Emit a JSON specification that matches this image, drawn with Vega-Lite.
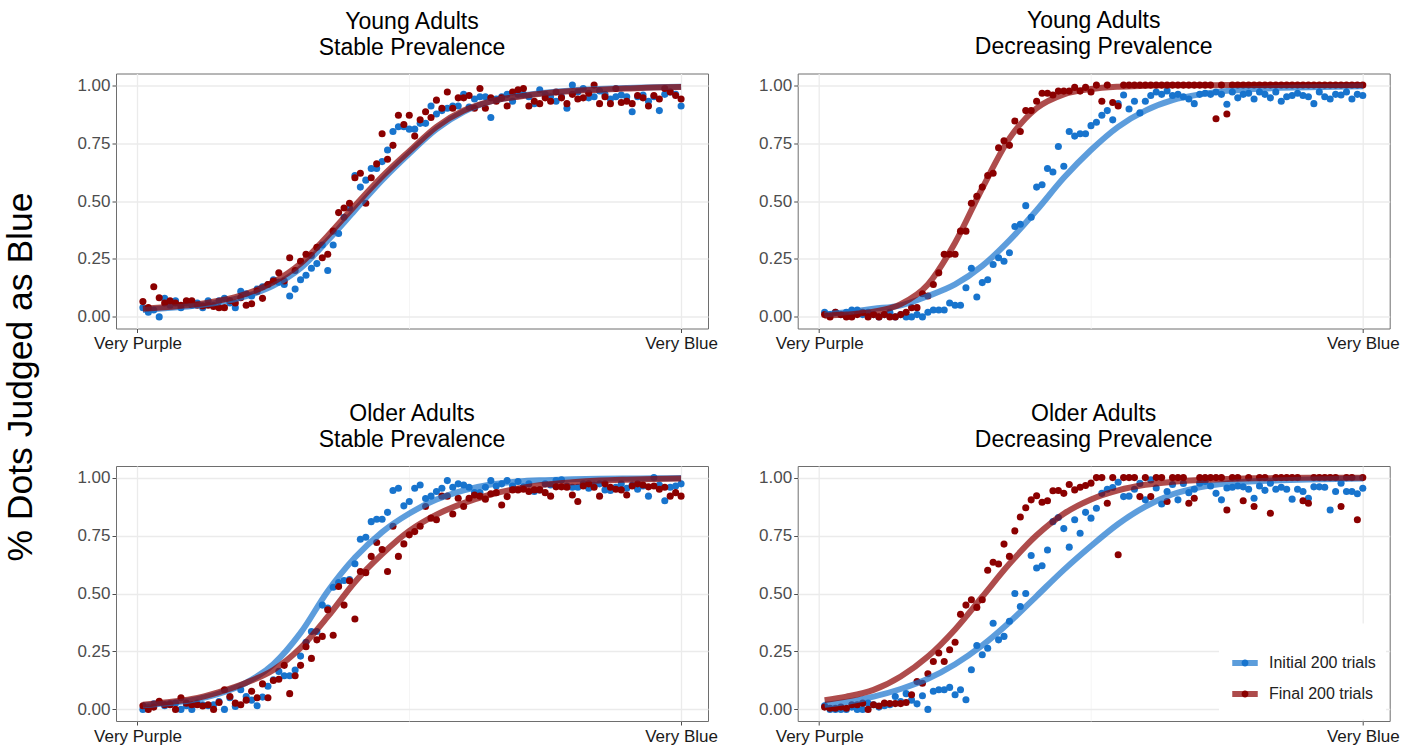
{
"$schema": "https://vega.github.io/schema/vega-lite/v6.json",
"background": "white",
"padding": {"left": 3, "top": 9.5, "right": 5, "bottom": 5},
"bounds": "flush",
"spacing": {"row": 137.5, "column": 89.7},
"columns": 2,
"title": {"text": "% Dots Judged as Blue", "orient": "left", "anchor": "middle", "fontSize": 35.5, "font": "Liberation Sans", "fontWeight": "normal", "color": "#000000", "offset": 37},
"datasets": {
"pts": [
{"p":"YS","g":"I","x":1,"y":0.04},{"p":"YS","g":"I","x":2,"y":0.02},{"p":"YS","g":"I","x":3,"y":0.03},{"p":"YS","g":"I","x":4,"y":0},{"p":"YS","g":"I","x":5,"y":0.08},{"p":"YS","g":"I","x":6,"y":0.05},{"p":"YS","g":"I","x":7,"y":0.07},{"p":"YS","g":"I","x":8,"y":0.04},{"p":"YS","g":"I","x":9,"y":0.06},{"p":"YS","g":"I","x":10,"y":0.05},
{"p":"YS","g":"I","x":11,"y":0.06},{"p":"YS","g":"I","x":12,"y":0.04},{"p":"YS","g":"I","x":13,"y":0.07},{"p":"YS","g":"I","x":14,"y":0.05},{"p":"YS","g":"I","x":15,"y":0.07},{"p":"YS","g":"I","x":16,"y":0.08},{"p":"YS","g":"I","x":17,"y":0.06},{"p":"YS","g":"I","x":18,"y":0.04},{"p":"YS","g":"I","x":19,"y":0.11},{"p":"YS","g":"I","x":20,"y":0.1},
{"p":"YS","g":"I","x":21,"y":0.09},{"p":"YS","g":"I","x":22,"y":0.12},{"p":"YS","g":"I","x":23,"y":0.13},{"p":"YS","g":"I","x":24,"y":0.14},{"p":"YS","g":"I","x":25,"y":0.16},{"p":"YS","g":"I","x":26,"y":0.15},{"p":"YS","g":"I","x":27,"y":0.14},{"p":"YS","g":"I","x":28,"y":0.09},{"p":"YS","g":"I","x":29,"y":0.12},{"p":"YS","g":"I","x":30,"y":0.16},
{"p":"YS","g":"I","x":31,"y":0.18},{"p":"YS","g":"I","x":32,"y":0.21},{"p":"YS","g":"I","x":33,"y":0.23},{"p":"YS","g":"I","x":34,"y":0.31},{"p":"YS","g":"I","x":35,"y":0.2},{"p":"YS","g":"I","x":36,"y":0.31},{"p":"YS","g":"I","x":37,"y":0.36},{"p":"YS","g":"I","x":38,"y":0.43},{"p":"YS","g":"I","x":39,"y":0.47},{"p":"YS","g":"I","x":40,"y":0.61},
{"p":"YS","g":"I","x":41,"y":0.56},{"p":"YS","g":"I","x":42,"y":0.59},{"p":"YS","g":"I","x":43,"y":0.64},{"p":"YS","g":"I","x":44,"y":0.64},{"p":"YS","g":"I","x":45,"y":0.67},{"p":"YS","g":"I","x":46,"y":0.72},{"p":"YS","g":"I","x":47,"y":0.8},{"p":"YS","g":"I","x":48,"y":0.82},{"p":"YS","g":"I","x":49,"y":0.82},{"p":"YS","g":"I","x":50,"y":0.81},
{"p":"YS","g":"I","x":51,"y":0.81},{"p":"YS","g":"I","x":52,"y":0.835},{"p":"YS","g":"I","x":53,"y":0.835},{"p":"YS","g":"I","x":54,"y":0.91},{"p":"YS","g":"I","x":55,"y":0.875},{"p":"YS","g":"I","x":56,"y":0.89},{"p":"YS","g":"I","x":57,"y":0.9},{"p":"YS","g":"I","x":58,"y":0.91},{"p":"YS","g":"I","x":59,"y":0.91},{"p":"YS","g":"I","x":60,"y":0.96},
{"p":"YS","g":"I","x":61,"y":0.905},{"p":"YS","g":"I","x":62,"y":0.94},{"p":"YS","g":"I","x":63,"y":0.95},{"p":"YS","g":"I","x":64,"y":0.95},{"p":"YS","g":"I","x":65,"y":0.86},{"p":"YS","g":"I","x":66,"y":0.94},{"p":"YS","g":"I","x":67,"y":0.95},{"p":"YS","g":"I","x":68,"y":0.96},{"p":"YS","g":"I","x":69,"y":0.93},{"p":"YS","g":"I","x":70,"y":0.96},
{"p":"YS","g":"I","x":71,"y":0.96},{"p":"YS","g":"I","x":72,"y":0.95},{"p":"YS","g":"I","x":73,"y":0.92},{"p":"YS","g":"I","x":74,"y":0.98},{"p":"YS","g":"I","x":75,"y":0.96},{"p":"YS","g":"I","x":76,"y":0.95},{"p":"YS","g":"I","x":77,"y":0.93},{"p":"YS","g":"I","x":78,"y":0.95},{"p":"YS","g":"I","x":79,"y":0.9},{"p":"YS","g":"I","x":80,"y":1},
{"p":"YS","g":"I","x":81,"y":0.97},{"p":"YS","g":"I","x":82,"y":0.985},{"p":"YS","g":"I","x":83,"y":0.945},{"p":"YS","g":"I","x":84,"y":0.95},{"p":"YS","g":"I","x":85,"y":0.975},{"p":"YS","g":"I","x":86,"y":0.96},{"p":"YS","g":"I","x":87,"y":0.94},{"p":"YS","g":"I","x":88,"y":0.95},{"p":"YS","g":"I","x":89,"y":0.957},{"p":"YS","g":"I","x":90,"y":0.95},
{"p":"YS","g":"I","x":91,"y":0.885},{"p":"YS","g":"I","x":92,"y":0.95},{"p":"YS","g":"I","x":93,"y":0.957},{"p":"YS","g":"I","x":94,"y":0.93},{"p":"YS","g":"I","x":95,"y":0.95},{"p":"YS","g":"I","x":96,"y":0.89},{"p":"YS","g":"I","x":97,"y":0.96},{"p":"YS","g":"I","x":98,"y":0.97},{"p":"YS","g":"I","x":99,"y":0.96},{"p":"YS","g":"I","x":100,"y":0.91},
{"p":"YS","g":"F","x":1,"y":0.066},{"p":"YS","g":"F","x":2,"y":0.04},{"p":"YS","g":"F","x":3,"y":0.13},{"p":"YS","g":"F","x":4,"y":0.083},{"p":"YS","g":"F","x":5,"y":0.06},{"p":"YS","g":"F","x":6,"y":0.07},{"p":"YS","g":"F","x":7,"y":0.06},{"p":"YS","g":"F","x":8,"y":0.05},{"p":"YS","g":"F","x":9,"y":0.07},{"p":"YS","g":"F","x":10,"y":0.07},
{"p":"YS","g":"F","x":11,"y":0.05},{"p":"YS","g":"F","x":12,"y":0.047},{"p":"YS","g":"F","x":13,"y":0.05},{"p":"YS","g":"F","x":14,"y":0.045},{"p":"YS","g":"F","x":15,"y":0.04},{"p":"YS","g":"F","x":16,"y":0.04},{"p":"YS","g":"F","x":17,"y":0.07},{"p":"YS","g":"F","x":18,"y":0.06},{"p":"YS","g":"F","x":19,"y":0.083},{"p":"YS","g":"F","x":20,"y":0.05},
{"p":"YS","g":"F","x":21,"y":0.057},{"p":"YS","g":"F","x":22,"y":0.11},{"p":"YS","g":"F","x":23,"y":0.08},{"p":"YS","g":"F","x":24,"y":0.14},{"p":"YS","g":"F","x":25,"y":0.155},{"p":"YS","g":"F","x":26,"y":0.19},{"p":"YS","g":"F","x":27,"y":0.155},{"p":"YS","g":"F","x":28,"y":0.255},{"p":"YS","g":"F","x":29,"y":0.2},{"p":"YS","g":"F","x":30,"y":0.24},
{"p":"YS","g":"F","x":31,"y":0.27},{"p":"YS","g":"F","x":32,"y":0.265},{"p":"YS","g":"F","x":33,"y":0.3},{"p":"YS","g":"F","x":34,"y":0.255},{"p":"YS","g":"F","x":35,"y":0.27},{"p":"YS","g":"F","x":36,"y":0.37},{"p":"YS","g":"F","x":37,"y":0.45},{"p":"YS","g":"F","x":38,"y":0.47},{"p":"YS","g":"F","x":39,"y":0.49},{"p":"YS","g":"F","x":40,"y":0.6},
{"p":"YS","g":"F","x":41,"y":0.62},{"p":"YS","g":"F","x":42,"y":0.49},{"p":"YS","g":"F","x":43,"y":0.6},{"p":"YS","g":"F","x":44,"y":0.66},{"p":"YS","g":"F","x":45,"y":0.79},{"p":"YS","g":"F","x":46,"y":0.68},{"p":"YS","g":"F","x":47,"y":0.74},{"p":"YS","g":"F","x":48,"y":0.87},{"p":"YS","g":"F","x":49,"y":0.83},{"p":"YS","g":"F","x":50,"y":0.87},
{"p":"YS","g":"F","x":51,"y":0.78},{"p":"YS","g":"F","x":52,"y":0.85},{"p":"YS","g":"F","x":53,"y":0.885},{"p":"YS","g":"F","x":54,"y":0.86},{"p":"YS","g":"F","x":55,"y":0.935},{"p":"YS","g":"F","x":56,"y":0.9},{"p":"YS","g":"F","x":57,"y":0.97},{"p":"YS","g":"F","x":58,"y":0.9},{"p":"YS","g":"F","x":59,"y":0.945},{"p":"YS","g":"F","x":60,"y":0.945},
{"p":"YS","g":"F","x":61,"y":0.955},{"p":"YS","g":"F","x":62,"y":0.9},{"p":"YS","g":"F","x":63,"y":0.985},{"p":"YS","g":"F","x":64,"y":0.9},{"p":"YS","g":"F","x":65,"y":0.945},{"p":"YS","g":"F","x":66,"y":0.93},{"p":"YS","g":"F","x":67,"y":0.945},{"p":"YS","g":"F","x":68,"y":0.91},{"p":"YS","g":"F","x":69,"y":0.97},{"p":"YS","g":"F","x":70,"y":0.98},
{"p":"YS","g":"F","x":71,"y":0.985},{"p":"YS","g":"F","x":72,"y":0.91},{"p":"YS","g":"F","x":73,"y":0.93},{"p":"YS","g":"F","x":74,"y":0.92},{"p":"YS","g":"F","x":75,"y":0.945},{"p":"YS","g":"F","x":76,"y":0.93},{"p":"YS","g":"F","x":77,"y":0.97},{"p":"YS","g":"F","x":78,"y":0.945},{"p":"YS","g":"F","x":79,"y":0.92},{"p":"YS","g":"F","x":80,"y":0.96},
{"p":"YS","g":"F","x":81,"y":0.94},{"p":"YS","g":"F","x":82,"y":0.945},{"p":"YS","g":"F","x":83,"y":0.965},{"p":"YS","g":"F","x":84,"y":1},{"p":"YS","g":"F","x":85,"y":0.92},{"p":"YS","g":"F","x":86,"y":0.95},{"p":"YS","g":"F","x":87,"y":0.92},{"p":"YS","g":"F","x":88,"y":0.985},{"p":"YS","g":"F","x":89,"y":0.925},{"p":"YS","g":"F","x":90,"y":0.93},
{"p":"YS","g":"F","x":91,"y":0.92},{"p":"YS","g":"F","x":92,"y":0.955},{"p":"YS","g":"F","x":93,"y":0.945},{"p":"YS","g":"F","x":94,"y":0.91},{"p":"YS","g":"F","x":95,"y":0.955},{"p":"YS","g":"F","x":96,"y":0.94},{"p":"YS","g":"F","x":97,"y":0.985},{"p":"YS","g":"F","x":98,"y":0.97},{"p":"YS","g":"F","x":99,"y":0.955},{"p":"YS","g":"F","x":100,"y":0.94},
{"p":"YD","g":"I","x":1,"y":0.02},{"p":"YD","g":"I","x":2,"y":0.01},{"p":"YD","g":"I","x":3,"y":0.02},{"p":"YD","g":"I","x":4,"y":0.01},{"p":"YD","g":"I","x":5,"y":0.02},{"p":"YD","g":"I","x":6,"y":0.03},{"p":"YD","g":"I","x":7,"y":0.03},{"p":"YD","g":"I","x":8,"y":0.01},{"p":"YD","g":"I","x":9,"y":0.02},{"p":"YD","g":"I","x":10,"y":0.01},
{"p":"YD","g":"I","x":11,"y":0},{"p":"YD","g":"I","x":12,"y":0.01},{"p":"YD","g":"I","x":13,"y":0.02},{"p":"YD","g":"I","x":14,"y":0},{"p":"YD","g":"I","x":15,"y":0.01},{"p":"YD","g":"I","x":16,"y":0},{"p":"YD","g":"I","x":17,"y":0},{"p":"YD","g":"I","x":18,"y":0.01},{"p":"YD","g":"I","x":19,"y":0},{"p":"YD","g":"I","x":20,"y":0.02},
{"p":"YD","g":"I","x":21,"y":0.03},{"p":"YD","g":"I","x":22,"y":0.03},{"p":"YD","g":"I","x":23,"y":0.03},{"p":"YD","g":"I","x":24,"y":0.06},{"p":"YD","g":"I","x":25,"y":0.05},{"p":"YD","g":"I","x":26,"y":0.05},{"p":"YD","g":"I","x":27,"y":0.126},{"p":"YD","g":"I","x":28,"y":0.21},{"p":"YD","g":"I","x":29,"y":0.086},{"p":"YD","g":"I","x":30,"y":0.148},
{"p":"YD","g":"I","x":31,"y":0.16},{"p":"YD","g":"I","x":32,"y":0.226},{"p":"YD","g":"I","x":33,"y":0.255},{"p":"YD","g":"I","x":34,"y":0.24},{"p":"YD","g":"I","x":35,"y":0.277},{"p":"YD","g":"I","x":36,"y":0.39},{"p":"YD","g":"I","x":37,"y":0.4},{"p":"YD","g":"I","x":38,"y":0.48},{"p":"YD","g":"I","x":39,"y":0.43},{"p":"YD","g":"I","x":40,"y":0.56},
{"p":"YD","g":"I","x":41,"y":0.57},{"p":"YD","g":"I","x":42,"y":0.64},{"p":"YD","g":"I","x":43,"y":0.625},{"p":"YD","g":"I","x":44,"y":0.735},{"p":"YD","g":"I","x":45,"y":0.65},{"p":"YD","g":"I","x":46,"y":0.8},{"p":"YD","g":"I","x":47,"y":0.78},{"p":"YD","g":"I","x":48,"y":0.79},{"p":"YD","g":"I","x":49,"y":0.79},{"p":"YD","g":"I","x":50,"y":0.825},
{"p":"YD","g":"I","x":51,"y":0.84},{"p":"YD","g":"I","x":52,"y":0.87},{"p":"YD","g":"I","x":53,"y":0.89},{"p":"YD","g":"I","x":54,"y":0.85},{"p":"YD","g":"I","x":55,"y":0.92},{"p":"YD","g":"I","x":56,"y":0.957},{"p":"YD","g":"I","x":57,"y":0.897},{"p":"YD","g":"I","x":58,"y":0.93},{"p":"YD","g":"I","x":59,"y":0.88},{"p":"YD","g":"I","x":60,"y":0.93},
{"p":"YD","g":"I","x":61,"y":0.955},{"p":"YD","g":"I","x":62,"y":0.97},{"p":"YD","g":"I","x":63,"y":0.96},{"p":"YD","g":"I","x":64,"y":0.975},{"p":"YD","g":"I","x":65,"y":0.955},{"p":"YD","g":"I","x":66,"y":0.96},{"p":"YD","g":"I","x":67,"y":0.95},{"p":"YD","g":"I","x":68,"y":0.94},{"p":"YD","g":"I","x":69,"y":0.92},{"p":"YD","g":"I","x":70,"y":0.96},
{"p":"YD","g":"I","x":71,"y":0.965},{"p":"YD","g":"I","x":72,"y":0.96},{"p":"YD","g":"I","x":73,"y":0.97},{"p":"YD","g":"I","x":74,"y":0.96},{"p":"YD","g":"I","x":75,"y":0.917},{"p":"YD","g":"I","x":76,"y":0.97},{"p":"YD","g":"I","x":77,"y":0.945},{"p":"YD","g":"I","x":78,"y":0.96},{"p":"YD","g":"I","x":79,"y":0.965},{"p":"YD","g":"I","x":80,"y":0.94},
{"p":"YD","g":"I","x":81,"y":0.97},{"p":"YD","g":"I","x":82,"y":0.96},{"p":"YD","g":"I","x":83,"y":0.945},{"p":"YD","g":"I","x":84,"y":0.97},{"p":"YD","g":"I","x":85,"y":0.93},{"p":"YD","g":"I","x":86,"y":0.95},{"p":"YD","g":"I","x":87,"y":0.955},{"p":"YD","g":"I","x":88,"y":0.965},{"p":"YD","g":"I","x":89,"y":0.955},{"p":"YD","g":"I","x":90,"y":0.95},
{"p":"YD","g":"I","x":91,"y":0.92},{"p":"YD","g":"I","x":92,"y":0.97},{"p":"YD","g":"I","x":93,"y":0.95},{"p":"YD","g":"I","x":94,"y":0.94},{"p":"YD","g":"I","x":95,"y":0.96},{"p":"YD","g":"I","x":96,"y":0.957},{"p":"YD","g":"I","x":97,"y":0.97},{"p":"YD","g":"I","x":98,"y":0.94},{"p":"YD","g":"I","x":99,"y":0.96},{"p":"YD","g":"I","x":100,"y":0.955},
{"p":"YD","g":"F","x":1,"y":0.01},{"p":"YD","g":"F","x":2,"y":0},{"p":"YD","g":"F","x":3,"y":0.02},{"p":"YD","g":"F","x":4,"y":0.01},{"p":"YD","g":"F","x":5,"y":0},{"p":"YD","g":"F","x":6,"y":0},{"p":"YD","g":"F","x":7,"y":0.01},{"p":"YD","g":"F","x":8,"y":0.02},{"p":"YD","g":"F","x":9,"y":0},{"p":"YD","g":"F","x":10,"y":0.01},
{"p":"YD","g":"F","x":11,"y":0},{"p":"YD","g":"F","x":12,"y":0.01},{"p":"YD","g":"F","x":13,"y":0},{"p":"YD","g":"F","x":14,"y":0},{"p":"YD","g":"F","x":15,"y":0.01},{"p":"YD","g":"F","x":16,"y":0.02},{"p":"YD","g":"F","x":17,"y":0.04},{"p":"YD","g":"F","x":18,"y":0.04},{"p":"YD","g":"F","x":19,"y":0.1},{"p":"YD","g":"F","x":20,"y":0.09},
{"p":"YD","g":"F","x":21,"y":0.14},{"p":"YD","g":"F","x":22,"y":0.19},{"p":"YD","g":"F","x":23,"y":0.27},{"p":"YD","g":"F","x":24,"y":0.27},{"p":"YD","g":"F","x":25,"y":0.27},{"p":"YD","g":"F","x":26,"y":0.37},{"p":"YD","g":"F","x":27,"y":0.37},{"p":"YD","g":"F","x":28,"y":0.49},{"p":"YD","g":"F","x":29,"y":0.52},{"p":"YD","g":"F","x":30,"y":0.56},
{"p":"YD","g":"F","x":31,"y":0.61},{"p":"YD","g":"F","x":32,"y":0.62},{"p":"YD","g":"F","x":33,"y":0.73},{"p":"YD","g":"F","x":34,"y":0.76},{"p":"YD","g":"F","x":35,"y":0.74},{"p":"YD","g":"F","x":36,"y":0.845},{"p":"YD","g":"F","x":37,"y":0.8},{"p":"YD","g":"F","x":38,"y":0.89},{"p":"YD","g":"F","x":39,"y":0.89},{"p":"YD","g":"F","x":40,"y":0.93},
{"p":"YD","g":"F","x":41,"y":0.965},{"p":"YD","g":"F","x":42,"y":0.965},{"p":"YD","g":"F","x":43,"y":0.957},{"p":"YD","g":"F","x":44,"y":0.974},{"p":"YD","g":"F","x":45,"y":0.974},{"p":"YD","g":"F","x":46,"y":0.974},{"p":"YD","g":"F","x":47,"y":0.99},{"p":"YD","g":"F","x":48,"y":0.974},{"p":"YD","g":"F","x":49,"y":0.99},{"p":"YD","g":"F","x":50,"y":0.97},
{"p":"YD","g":"F","x":51,"y":1},{"p":"YD","g":"F","x":52,"y":0.93},{"p":"YD","g":"F","x":53,"y":1},{"p":"YD","g":"F","x":54,"y":0.925},{"p":"YD","g":"F","x":55,"y":0.91},{"p":"YD","g":"F","x":56,"y":1},{"p":"YD","g":"F","x":57,"y":1},{"p":"YD","g":"F","x":58,"y":1},{"p":"YD","g":"F","x":59,"y":1},{"p":"YD","g":"F","x":60,"y":1},
{"p":"YD","g":"F","x":61,"y":1},{"p":"YD","g":"F","x":62,"y":1},{"p":"YD","g":"F","x":63,"y":1},{"p":"YD","g":"F","x":64,"y":1},{"p":"YD","g":"F","x":65,"y":1},{"p":"YD","g":"F","x":66,"y":1},{"p":"YD","g":"F","x":67,"y":1},{"p":"YD","g":"F","x":68,"y":1},{"p":"YD","g":"F","x":69,"y":1},{"p":"YD","g":"F","x":70,"y":1},
{"p":"YD","g":"F","x":71,"y":1},{"p":"YD","g":"F","x":72,"y":1},{"p":"YD","g":"F","x":73,"y":0.855},{"p":"YD","g":"F","x":74,"y":1},{"p":"YD","g":"F","x":75,"y":0.875},{"p":"YD","g":"F","x":76,"y":1},{"p":"YD","g":"F","x":77,"y":1},{"p":"YD","g":"F","x":78,"y":1},{"p":"YD","g":"F","x":79,"y":1},{"p":"YD","g":"F","x":80,"y":1},
{"p":"YD","g":"F","x":81,"y":1},{"p":"YD","g":"F","x":82,"y":1},{"p":"YD","g":"F","x":83,"y":1},{"p":"YD","g":"F","x":84,"y":1},{"p":"YD","g":"F","x":85,"y":1},{"p":"YD","g":"F","x":86,"y":1},{"p":"YD","g":"F","x":87,"y":1},{"p":"YD","g":"F","x":88,"y":1},{"p":"YD","g":"F","x":89,"y":1},{"p":"YD","g":"F","x":90,"y":1},
{"p":"YD","g":"F","x":91,"y":1},{"p":"YD","g":"F","x":92,"y":1},{"p":"YD","g":"F","x":93,"y":1},{"p":"YD","g":"F","x":94,"y":1},{"p":"YD","g":"F","x":95,"y":1},{"p":"YD","g":"F","x":96,"y":1},{"p":"YD","g":"F","x":97,"y":1},{"p":"YD","g":"F","x":98,"y":1},{"p":"YD","g":"F","x":99,"y":1},{"p":"YD","g":"F","x":100,"y":1},
{"p":"OS","g":"I","x":1,"y":0},{"p":"OS","g":"I","x":2,"y":0.01},{"p":"OS","g":"I","x":3,"y":0.024},{"p":"OS","g":"I","x":4,"y":0.03},{"p":"OS","g":"I","x":5,"y":0.016},{"p":"OS","g":"I","x":6,"y":0.024},{"p":"OS","g":"I","x":7,"y":0.027},{"p":"OS","g":"I","x":8,"y":0},{"p":"OS","g":"I","x":9,"y":0.016},{"p":"OS","g":"I","x":10,"y":0},
{"p":"OS","g":"I","x":11,"y":0.027},{"p":"OS","g":"I","x":12,"y":0.02},{"p":"OS","g":"I","x":13,"y":0.016},{"p":"OS","g":"I","x":14,"y":0.02},{"p":"OS","g":"I","x":15,"y":0.034},{"p":"OS","g":"I","x":16,"y":0},{"p":"OS","g":"I","x":17,"y":0.05},{"p":"OS","g":"I","x":18,"y":0.013},{"p":"OS","g":"I","x":19,"y":0.085},{"p":"OS","g":"I","x":20,"y":0.056},
{"p":"OS","g":"I","x":21,"y":0.04},{"p":"OS","g":"I","x":22,"y":0.016},{"p":"OS","g":"I","x":23,"y":0.053},{"p":"OS","g":"I","x":24,"y":0.1},{"p":"OS","g":"I","x":25,"y":0.128},{"p":"OS","g":"I","x":26,"y":0.164},{"p":"OS","g":"I","x":27,"y":0.145},{"p":"OS","g":"I","x":28,"y":0.145},{"p":"OS","g":"I","x":29,"y":0.17},{"p":"OS","g":"I","x":30,"y":0.23},
{"p":"OS","g":"I","x":31,"y":0.29},{"p":"OS","g":"I","x":32,"y":0.336},{"p":"OS","g":"I","x":33,"y":0.336},{"p":"OS","g":"I","x":34,"y":0.45},{"p":"OS","g":"I","x":35,"y":0.437},{"p":"OS","g":"I","x":36,"y":0.527},{"p":"OS","g":"I","x":37,"y":0.547},{"p":"OS","g":"I","x":38,"y":0.556},{"p":"OS","g":"I","x":39,"y":0.56},{"p":"OS","g":"I","x":40,"y":0.628},
{"p":"OS","g":"I","x":41,"y":0.734},{"p":"OS","g":"I","x":42,"y":0.743},{"p":"OS","g":"I","x":43,"y":0.81},{"p":"OS","g":"I","x":44,"y":0.82},{"p":"OS","g":"I","x":45,"y":0.82},{"p":"OS","g":"I","x":46,"y":0.85},{"p":"OS","g":"I","x":47,"y":0.944},{"p":"OS","g":"I","x":48,"y":0.954},{"p":"OS","g":"I","x":49,"y":0.878},{"p":"OS","g":"I","x":50,"y":0.897},
{"p":"OS","g":"I","x":51,"y":0.954},{"p":"OS","g":"I","x":52,"y":0.968},{"p":"OS","g":"I","x":53,"y":0.91},{"p":"OS","g":"I","x":54,"y":0.92},{"p":"OS","g":"I","x":55,"y":0.94},{"p":"OS","g":"I","x":56,"y":0.954},{"p":"OS","g":"I","x":57,"y":0.987},{"p":"OS","g":"I","x":58,"y":0.958},{"p":"OS","g":"I","x":59,"y":0.973},{"p":"OS","g":"I","x":60,"y":0.968},
{"p":"OS","g":"I","x":61,"y":0.958},{"p":"OS","g":"I","x":62,"y":0.935},{"p":"OS","g":"I","x":63,"y":0.935},{"p":"OS","g":"I","x":64,"y":0.958},{"p":"OS","g":"I","x":65,"y":0.987},{"p":"OS","g":"I","x":66,"y":0.964},{"p":"OS","g":"I","x":67,"y":0.973},{"p":"OS","g":"I","x":68,"y":0.987},{"p":"OS","g":"I","x":69,"y":0.964},{"p":"OS","g":"I","x":70,"y":0.983},
{"p":"OS","g":"I","x":71,"y":0.96},{"p":"OS","g":"I","x":72,"y":0.973},{"p":"OS","g":"I","x":73,"y":0.94},{"p":"OS","g":"I","x":74,"y":0.947},{"p":"OS","g":"I","x":75,"y":0.973},{"p":"OS","g":"I","x":76,"y":0.968},{"p":"OS","g":"I","x":77,"y":0.987},{"p":"OS","g":"I","x":78,"y":0.99},{"p":"OS","g":"I","x":79,"y":0.964},{"p":"OS","g":"I","x":80,"y":0.958},
{"p":"OS","g":"I","x":81,"y":0.958},{"p":"OS","g":"I","x":82,"y":0.973},{"p":"OS","g":"I","x":83,"y":0.954},{"p":"OS","g":"I","x":84,"y":0.968},{"p":"OS","g":"I","x":85,"y":0.973},{"p":"OS","g":"I","x":86,"y":0.947},{"p":"OS","g":"I","x":87,"y":0.944},{"p":"OS","g":"I","x":88,"y":0.958},{"p":"OS","g":"I","x":89,"y":0.973},{"p":"OS","g":"I","x":90,"y":0.954},
{"p":"OS","g":"I","x":91,"y":0.968},{"p":"OS","g":"I","x":92,"y":0.95},{"p":"OS","g":"I","x":93,"y":0.964},{"p":"OS","g":"I","x":94,"y":0.92},{"p":"OS","g":"I","x":95,"y":1},{"p":"OS","g":"I","x":96,"y":0.968},{"p":"OS","g":"I","x":97,"y":0.9},{"p":"OS","g":"I","x":98,"y":0.958},{"p":"OS","g":"I","x":99,"y":0.964},{"p":"OS","g":"I","x":100,"y":0.973},
{"p":"OS","g":"F","x":1,"y":0.016},{"p":"OS","g":"F","x":2,"y":0},{"p":"OS","g":"F","x":3,"y":0.01},{"p":"OS","g":"F","x":4,"y":0.035},{"p":"OS","g":"F","x":5,"y":0.02},{"p":"OS","g":"F","x":6,"y":0.02},{"p":"OS","g":"F","x":7,"y":0},{"p":"OS","g":"F","x":8,"y":0.05},{"p":"OS","g":"F","x":9,"y":0.027},{"p":"OS","g":"F","x":10,"y":0.02},
{"p":"OS","g":"F","x":11,"y":0.02},{"p":"OS","g":"F","x":12,"y":0.015},{"p":"OS","g":"F","x":13,"y":0.02},{"p":"OS","g":"F","x":14,"y":0},{"p":"OS","g":"F","x":15,"y":0.03},{"p":"OS","g":"F","x":16,"y":0.085},{"p":"OS","g":"F","x":17,"y":0.056},{"p":"OS","g":"F","x":18,"y":0.027},{"p":"OS","g":"F","x":19,"y":0.02},{"p":"OS","g":"F","x":20,"y":0.04},
{"p":"OS","g":"F","x":21,"y":0.078},{"p":"OS","g":"F","x":22,"y":0.05},{"p":"OS","g":"F","x":23,"y":0.11},{"p":"OS","g":"F","x":24,"y":0.05},{"p":"OS","g":"F","x":25,"y":0.125},{"p":"OS","g":"F","x":26,"y":0.13},{"p":"OS","g":"F","x":27,"y":0.19},{"p":"OS","g":"F","x":28,"y":0.068},{"p":"OS","g":"F","x":29,"y":0.145},{"p":"OS","g":"F","x":30,"y":0.19},
{"p":"OS","g":"F","x":31,"y":0.27},{"p":"OS","g":"F","x":32,"y":0.22},{"p":"OS","g":"F","x":33,"y":0.3},{"p":"OS","g":"F","x":34,"y":0.315},{"p":"OS","g":"F","x":35,"y":0.43},{"p":"OS","g":"F","x":36,"y":0.32},{"p":"OS","g":"F","x":37,"y":0.53},{"p":"OS","g":"F","x":38,"y":0.45},{"p":"OS","g":"F","x":39,"y":0.555},{"p":"OS","g":"F","x":40,"y":0.39},
{"p":"OS","g":"F","x":41,"y":0.595},{"p":"OS","g":"F","x":42,"y":0.59},{"p":"OS","g":"F","x":43,"y":0.66},{"p":"OS","g":"F","x":44,"y":0.72},{"p":"OS","g":"F","x":45,"y":0.69},{"p":"OS","g":"F","x":46,"y":0.595},{"p":"OS","g":"F","x":47,"y":0.79},{"p":"OS","g":"F","x":48,"y":0.66},{"p":"OS","g":"F","x":49,"y":0.714},{"p":"OS","g":"F","x":50,"y":0.753},
{"p":"OS","g":"F","x":51,"y":0.767},{"p":"OS","g":"F","x":52,"y":0.79},{"p":"OS","g":"F","x":53,"y":0.875},{"p":"OS","g":"F","x":54,"y":0.825},{"p":"OS","g":"F","x":55,"y":0.818},{"p":"OS","g":"F","x":56,"y":0.92},{"p":"OS","g":"F","x":57,"y":0.92},{"p":"OS","g":"F","x":58,"y":0.843},{"p":"OS","g":"F","x":59,"y":0.911},{"p":"OS","g":"F","x":60,"y":0.875},
{"p":"OS","g":"F","x":61,"y":0.911},{"p":"OS","g":"F","x":62,"y":0.925},{"p":"OS","g":"F","x":63,"y":0.92},{"p":"OS","g":"F","x":64,"y":0.907},{"p":"OS","g":"F","x":65,"y":0.93},{"p":"OS","g":"F","x":66,"y":0.935},{"p":"OS","g":"F","x":67,"y":0.882},{"p":"OS","g":"F","x":68,"y":0.918},{"p":"OS","g":"F","x":69,"y":0.947},{"p":"OS","g":"F","x":70,"y":0.947},
{"p":"OS","g":"F","x":71,"y":0.95},{"p":"OS","g":"F","x":72,"y":0.94},{"p":"OS","g":"F","x":73,"y":0.947},{"p":"OS","g":"F","x":74,"y":0.947},{"p":"OS","g":"F","x":75,"y":0.935},{"p":"OS","g":"F","x":76,"y":0.92},{"p":"OS","g":"F","x":77,"y":0.96},{"p":"OS","g":"F","x":78,"y":0.96},{"p":"OS","g":"F","x":79,"y":0.958},{"p":"OS","g":"F","x":80,"y":0.925},
{"p":"OS","g":"F","x":81,"y":0.897},{"p":"OS","g":"F","x":82,"y":0.964},{"p":"OS","g":"F","x":83,"y":0.973},{"p":"OS","g":"F","x":84,"y":0.958},{"p":"OS","g":"F","x":85,"y":0.92},{"p":"OS","g":"F","x":86,"y":0.973},{"p":"OS","g":"F","x":87,"y":0.958},{"p":"OS","g":"F","x":88,"y":0.95},{"p":"OS","g":"F","x":89,"y":0.947},{"p":"OS","g":"F","x":90,"y":0.925},
{"p":"OS","g":"F","x":91,"y":0.964},{"p":"OS","g":"F","x":92,"y":0.973},{"p":"OS","g":"F","x":93,"y":0.968},{"p":"OS","g":"F","x":94,"y":0.96},{"p":"OS","g":"F","x":95,"y":0.964},{"p":"OS","g":"F","x":96,"y":0.95},{"p":"OS","g":"F","x":97,"y":0.958},{"p":"OS","g":"F","x":98,"y":0.92},{"p":"OS","g":"F","x":99,"y":0.935},{"p":"OS","g":"F","x":100,"y":0.92},
{"p":"OD","g":"I","x":1,"y":0.016},{"p":"OD","g":"I","x":2,"y":0},{"p":"OD","g":"I","x":3,"y":0},{"p":"OD","g":"I","x":4,"y":0},{"p":"OD","g":"I","x":5,"y":0},{"p":"OD","g":"I","x":6,"y":0.01},{"p":"OD","g":"I","x":7,"y":0},{"p":"OD","g":"I","x":8,"y":0},{"p":"OD","g":"I","x":9,"y":0.027},{"p":"OD","g":"I","x":10,"y":0.02},
{"p":"OD","g":"I","x":11,"y":0.01},{"p":"OD","g":"I","x":12,"y":0.016},{"p":"OD","g":"I","x":13,"y":0.02},{"p":"OD","g":"I","x":14,"y":0.056},{"p":"OD","g":"I","x":15,"y":0.034},{"p":"OD","g":"I","x":16,"y":0.068},{"p":"OD","g":"I","x":17,"y":0.04},{"p":"OD","g":"I","x":18,"y":0.024},{"p":"OD","g":"I","x":19,"y":0.059},{"p":"OD","g":"I","x":20,"y":0},
{"p":"OD","g":"I","x":21,"y":0.078},{"p":"OD","g":"I","x":22,"y":0.085},{"p":"OD","g":"I","x":23,"y":0.085},{"p":"OD","g":"I","x":24,"y":0.095},{"p":"OD","g":"I","x":25,"y":0.063},{"p":"OD","g":"I","x":26,"y":0.085},{"p":"OD","g":"I","x":27,"y":0.042},{"p":"OD","g":"I","x":28,"y":0.171},{"p":"OD","g":"I","x":29,"y":0.276},{"p":"OD","g":"I","x":30,"y":0.236},
{"p":"OD","g":"I","x":31,"y":0.264},{"p":"OD","g":"I","x":32,"y":0.372},{"p":"OD","g":"I","x":33,"y":0.3},{"p":"OD","g":"I","x":34,"y":0.315},{"p":"OD","g":"I","x":35,"y":0.38},{"p":"OD","g":"I","x":36,"y":0.5},{"p":"OD","g":"I","x":37,"y":0.444},{"p":"OD","g":"I","x":38,"y":0.5},{"p":"OD","g":"I","x":39,"y":0.664},{"p":"OD","g":"I","x":40,"y":0.61},
{"p":"OD","g":"I","x":41,"y":0.62},{"p":"OD","g":"I","x":42,"y":0.688},{"p":"OD","g":"I","x":43,"y":0.81},{"p":"OD","g":"I","x":44,"y":0.828},{"p":"OD","g":"I","x":45,"y":0.78},{"p":"OD","g":"I","x":46,"y":0.7},{"p":"OD","g":"I","x":47,"y":0.818},{"p":"OD","g":"I","x":48,"y":0.76},{"p":"OD","g":"I","x":49,"y":0.85},{"p":"OD","g":"I","x":50,"y":0.825},
{"p":"OD","g":"I","x":51,"y":0.868},{"p":"OD","g":"I","x":52,"y":0.932},{"p":"OD","g":"I","x":53,"y":0.95},{"p":"OD","g":"I","x":54,"y":0.957},{"p":"OD","g":"I","x":55,"y":0.98},{"p":"OD","g":"I","x":56,"y":0.918},{"p":"OD","g":"I","x":57,"y":0.92},{"p":"OD","g":"I","x":58,"y":0.95},{"p":"OD","g":"I","x":59,"y":0.975},{"p":"OD","g":"I","x":60,"y":0.904},
{"p":"OD","g":"I","x":61,"y":0.99},{"p":"OD","g":"I","x":62,"y":0.955},{"p":"OD","g":"I","x":63,"y":0.886},{"p":"OD","g":"I","x":64,"y":0.94},{"p":"OD","g":"I","x":65,"y":0.97},{"p":"OD","g":"I","x":66,"y":0.904},{"p":"OD","g":"I","x":67,"y":0.975},{"p":"OD","g":"I","x":68,"y":0.935},{"p":"OD","g":"I","x":69,"y":0.95},{"p":"OD","g":"I","x":70,"y":0.976},
{"p":"OD","g":"I","x":71,"y":0.983},{"p":"OD","g":"I","x":72,"y":0.964},{"p":"OD","g":"I","x":73,"y":0.932},{"p":"OD","g":"I","x":74,"y":0.904},{"p":"OD","g":"I","x":75,"y":0.955},{"p":"OD","g":"I","x":76,"y":0.958},{"p":"OD","g":"I","x":77,"y":0.964},{"p":"OD","g":"I","x":78,"y":0.96},{"p":"OD","g":"I","x":79,"y":0.95},{"p":"OD","g":"I","x":80,"y":0.911},
{"p":"OD","g":"I","x":81,"y":0.964},{"p":"OD","g":"I","x":82,"y":0.945},{"p":"OD","g":"I","x":83,"y":0.976},{"p":"OD","g":"I","x":84,"y":0.95},{"p":"OD","g":"I","x":85,"y":0.958},{"p":"OD","g":"I","x":86,"y":0.95},{"p":"OD","g":"I","x":87,"y":0.907},{"p":"OD","g":"I","x":88,"y":0.95},{"p":"OD","g":"I","x":89,"y":0.94},{"p":"OD","g":"I","x":90,"y":0.911},
{"p":"OD","g":"I","x":91,"y":0.96},{"p":"OD","g":"I","x":92,"y":0.96},{"p":"OD","g":"I","x":93,"y":0.958},{"p":"OD","g":"I","x":94,"y":0.86},{"p":"OD","g":"I","x":95,"y":0.94},{"p":"OD","g":"I","x":96,"y":0.976},{"p":"OD","g":"I","x":97,"y":0.94},{"p":"OD","g":"I","x":98,"y":0.94},{"p":"OD","g":"I","x":99,"y":0.93},{"p":"OD","g":"I","x":100,"y":0.954},
{"p":"OD","g":"F","x":1,"y":0.01},{"p":"OD","g":"F","x":2,"y":0.005},{"p":"OD","g":"F","x":3,"y":0.005},{"p":"OD","g":"F","x":4,"y":0.01},{"p":"OD","g":"F","x":5,"y":0.005},{"p":"OD","g":"F","x":6,"y":0.02},{"p":"OD","g":"F","x":7,"y":0.02},{"p":"OD","g":"F","x":8,"y":0.027},{"p":"OD","g":"F","x":9,"y":0},{"p":"OD","g":"F","x":10,"y":0.02},
{"p":"OD","g":"F","x":11,"y":0.015},{"p":"OD","g":"F","x":12,"y":0.027},{"p":"OD","g":"F","x":13,"y":0.025},{"p":"OD","g":"F","x":14,"y":0.025},{"p":"OD","g":"F","x":15,"y":0.025},{"p":"OD","g":"F","x":16,"y":0.03},{"p":"OD","g":"F","x":17,"y":0.063},{"p":"OD","g":"F","x":18,"y":0.12},{"p":"OD","g":"F","x":19,"y":0.113},{"p":"OD","g":"F","x":20,"y":0.154},
{"p":"OD","g":"F","x":21,"y":0.207},{"p":"OD","g":"F","x":22,"y":0.243},{"p":"OD","g":"F","x":23,"y":0.207},{"p":"OD","g":"F","x":24,"y":0.257},{"p":"OD","g":"F","x":25,"y":0.29},{"p":"OD","g":"F","x":26,"y":0.41},{"p":"OD","g":"F","x":27,"y":0.45},{"p":"OD","g":"F","x":28,"y":0.473},{"p":"OD","g":"F","x":29,"y":0.44},{"p":"OD","g":"F","x":30,"y":0.473},
{"p":"OD","g":"F","x":31,"y":0.6},{"p":"OD","g":"F","x":32,"y":0.635},{"p":"OD","g":"F","x":33,"y":0.627},{"p":"OD","g":"F","x":34,"y":0.713},{"p":"OD","g":"F","x":35,"y":0.66},{"p":"OD","g":"F","x":36,"y":0.77},{"p":"OD","g":"F","x":37,"y":0.83},{"p":"OD","g":"F","x":38,"y":0.87},{"p":"OD","g":"F","x":39,"y":0.904},{"p":"OD","g":"F","x":40,"y":0.922},
{"p":"OD","g":"F","x":41,"y":0.894},{"p":"OD","g":"F","x":42,"y":0.9},{"p":"OD","g":"F","x":43,"y":0.943},{"p":"OD","g":"F","x":44,"y":0.944},{"p":"OD","g":"F","x":45,"y":0.932},{"p":"OD","g":"F","x":46,"y":0.97},{"p":"OD","g":"F","x":47,"y":0.947},{"p":"OD","g":"F","x":48,"y":0.958},{"p":"OD","g":"F","x":49,"y":0.966},{"p":"OD","g":"F","x":50,"y":0.976},
{"p":"OD","g":"F","x":51,"y":1},{"p":"OD","g":"F","x":52,"y":1},{"p":"OD","g":"F","x":53,"y":0.889},{"p":"OD","g":"F","x":54,"y":1},{"p":"OD","g":"F","x":55,"y":0.667},{"p":"OD","g":"F","x":56,"y":1},{"p":"OD","g":"F","x":57,"y":1},{"p":"OD","g":"F","x":58,"y":1},{"p":"OD","g":"F","x":59,"y":0.918},{"p":"OD","g":"F","x":60,"y":1},
{"p":"OD","g":"F","x":61,"y":0.918},{"p":"OD","g":"F","x":62,"y":1},{"p":"OD","g":"F","x":63,"y":1},{"p":"OD","g":"F","x":64,"y":0.897},{"p":"OD","g":"F","x":65,"y":1},{"p":"OD","g":"F","x":66,"y":1},{"p":"OD","g":"F","x":67,"y":1},{"p":"OD","g":"F","x":68,"y":0.889},{"p":"OD","g":"F","x":69,"y":0.911},{"p":"OD","g":"F","x":70,"y":1},
{"p":"OD","g":"F","x":71,"y":1},{"p":"OD","g":"F","x":72,"y":1},{"p":"OD","g":"F","x":73,"y":1},{"p":"OD","g":"F","x":74,"y":1},{"p":"OD","g":"F","x":75,"y":0.86},{"p":"OD","g":"F","x":76,"y":1},{"p":"OD","g":"F","x":77,"y":1},{"p":"OD","g":"F","x":78,"y":0.9},{"p":"OD","g":"F","x":79,"y":1},{"p":"OD","g":"F","x":80,"y":0.875},
{"p":"OD","g":"F","x":81,"y":1},{"p":"OD","g":"F","x":82,"y":1},{"p":"OD","g":"F","x":83,"y":0.846},{"p":"OD","g":"F","x":84,"y":1},{"p":"OD","g":"F","x":85,"y":1},{"p":"OD","g":"F","x":86,"y":1},{"p":"OD","g":"F","x":87,"y":1},{"p":"OD","g":"F","x":88,"y":1},{"p":"OD","g":"F","x":89,"y":0.9},{"p":"OD","g":"F","x":90,"y":0.889},
{"p":"OD","g":"F","x":91,"y":1},{"p":"OD","g":"F","x":92,"y":1},{"p":"OD","g":"F","x":93,"y":1},{"p":"OD","g":"F","x":94,"y":1},{"p":"OD","g":"F","x":95,"y":1},{"p":"OD","g":"F","x":96,"y":0.875},{"p":"OD","g":"F","x":97,"y":1},{"p":"OD","g":"F","x":98,"y":1},{"p":"OD","g":"F","x":99,"y":0.818},{"p":"OD","g":"F","x":100,"y":1}
],
"fit": [
{"p":"YS","g":"I","x":1,"y":0.03},{"p":"YS","g":"I","x":5,"y":0.037},{"p":"YS","g":"I","x":10,"y":0.047},{"p":"YS","g":"I","x":15,"y":0.063},{"p":"YS","g":"I","x":20,"y":0.09},{"p":"YS","g":"I","x":25,"y":0.135},{"p":"YS","g":"I","x":30,"y":0.21},{"p":"YS","g":"I","x":35,"y":0.33},{"p":"YS","g":"I","x":40,"y":0.46},{"p":"YS","g":"I","x":45,"y":0.59},{"p":"YS","g":"I","x":50,"y":0.705},{"p":"YS","g":"I","x":55,"y":0.81},{"p":"YS","g":"I","x":60,"y":0.885},{"p":"YS","g":"I","x":65,"y":0.93},{"p":"YS","g":"I","x":70,"y":0.952},{"p":"YS","g":"I","x":75,"y":0.967},{"p":"YS","g":"I","x":80,"y":0.977},{"p":"YS","g":"I","x":85,"y":0.983},{"p":"YS","g":"I","x":90,"y":0.988},{"p":"YS","g":"I","x":95,"y":0.991},{"p":"YS","g":"I","x":100,"y":0.993},
{"p":"YS","g":"F","x":1,"y":0.035},{"p":"YS","g":"F","x":5,"y":0.042},{"p":"YS","g":"F","x":10,"y":0.052},{"p":"YS","g":"F","x":15,"y":0.07},{"p":"YS","g":"F","x":20,"y":0.1},{"p":"YS","g":"F","x":25,"y":0.15},{"p":"YS","g":"F","x":30,"y":0.23},{"p":"YS","g":"F","x":35,"y":0.35},{"p":"YS","g":"F","x":40,"y":0.48},{"p":"YS","g":"F","x":45,"y":0.605},{"p":"YS","g":"F","x":50,"y":0.715},{"p":"YS","g":"F","x":55,"y":0.82},{"p":"YS","g":"F","x":60,"y":0.89},{"p":"YS","g":"F","x":65,"y":0.93},{"p":"YS","g":"F","x":70,"y":0.95},{"p":"YS","g":"F","x":75,"y":0.965},{"p":"YS","g":"F","x":80,"y":0.975},{"p":"YS","g":"F","x":85,"y":0.98},{"p":"YS","g":"F","x":90,"y":0.985},{"p":"YS","g":"F","x":95,"y":0.99},{"p":"YS","g":"F","x":100,"y":0.992},
{"p":"YD","g":"I","x":1,"y":0.01},{"p":"YD","g":"I","x":5,"y":0.02},{"p":"YD","g":"I","x":10,"y":0.035},{"p":"YD","g":"I","x":15,"y":0.05},{"p":"YD","g":"I","x":20,"y":0.09},{"p":"YD","g":"I","x":25,"y":0.14},{"p":"YD","g":"I","x":30,"y":0.22},{"p":"YD","g":"I","x":35,"y":0.33},{"p":"YD","g":"I","x":40,"y":0.46},{"p":"YD","g":"I","x":45,"y":0.6},{"p":"YD","g":"I","x":50,"y":0.72},{"p":"YD","g":"I","x":55,"y":0.82},{"p":"YD","g":"I","x":60,"y":0.89},{"p":"YD","g":"I","x":65,"y":0.935},{"p":"YD","g":"I","x":70,"y":0.96},{"p":"YD","g":"I","x":75,"y":0.975},{"p":"YD","g":"I","x":80,"y":0.983},{"p":"YD","g":"I","x":85,"y":0.988},{"p":"YD","g":"I","x":90,"y":0.991},{"p":"YD","g":"I","x":95,"y":0.993},{"p":"YD","g":"I","x":100,"y":0.995},
{"p":"YD","g":"F","x":1,"y":0.005},{"p":"YD","g":"F","x":5,"y":0.01},{"p":"YD","g":"F","x":10,"y":0.022},{"p":"YD","g":"F","x":15,"y":0.055},{"p":"YD","g":"F","x":20,"y":0.14},{"p":"YD","g":"F","x":25,"y":0.32},{"p":"YD","g":"F","x":30,"y":0.555},{"p":"YD","g":"F","x":35,"y":0.77},{"p":"YD","g":"F","x":40,"y":0.9},{"p":"YD","g":"F","x":45,"y":0.96},{"p":"YD","g":"F","x":50,"y":0.983},{"p":"YD","g":"F","x":55,"y":0.993},{"p":"YD","g":"F","x":60,"y":0.997},{"p":"YD","g":"F","x":65,"y":0.999},{"p":"YD","g":"F","x":70,"y":0.999},{"p":"YD","g":"F","x":75,"y":1},{"p":"YD","g":"F","x":80,"y":1},{"p":"YD","g":"F","x":85,"y":1},{"p":"YD","g":"F","x":90,"y":1},{"p":"YD","g":"F","x":95,"y":1},{"p":"YD","g":"F","x":100,"y":1},
{"p":"OS","g":"I","x":1,"y":0.018},{"p":"OS","g":"I","x":5,"y":0.025},{"p":"OS","g":"I","x":10,"y":0.04},{"p":"OS","g":"I","x":15,"y":0.068},{"p":"OS","g":"I","x":20,"y":0.115},{"p":"OS","g":"I","x":25,"y":0.195},{"p":"OS","g":"I","x":30,"y":0.33},{"p":"OS","g":"I","x":35,"y":0.51},{"p":"OS","g":"I","x":40,"y":0.655},{"p":"OS","g":"I","x":45,"y":0.765},{"p":"OS","g":"I","x":50,"y":0.845},{"p":"OS","g":"I","x":55,"y":0.905},{"p":"OS","g":"I","x":60,"y":0.945},{"p":"OS","g":"I","x":65,"y":0.97},{"p":"OS","g":"I","x":70,"y":0.983},{"p":"OS","g":"I","x":75,"y":0.989},{"p":"OS","g":"I","x":80,"y":0.993},{"p":"OS","g":"I","x":85,"y":0.995},{"p":"OS","g":"I","x":90,"y":0.996},{"p":"OS","g":"I","x":95,"y":0.997},{"p":"OS","g":"I","x":100,"y":0.998},
{"p":"OS","g":"F","x":1,"y":0.02},{"p":"OS","g":"F","x":5,"y":0.03},{"p":"OS","g":"F","x":10,"y":0.045},{"p":"OS","g":"F","x":15,"y":0.075},{"p":"OS","g":"F","x":20,"y":0.115},{"p":"OS","g":"F","x":25,"y":0.17},{"p":"OS","g":"F","x":30,"y":0.265},{"p":"OS","g":"F","x":35,"y":0.4},{"p":"OS","g":"F","x":40,"y":0.55},{"p":"OS","g":"F","x":45,"y":0.67},{"p":"OS","g":"F","x":50,"y":0.77},{"p":"OS","g":"F","x":55,"y":0.84},{"p":"OS","g":"F","x":60,"y":0.89},{"p":"OS","g":"F","x":65,"y":0.927},{"p":"OS","g":"F","x":70,"y":0.953},{"p":"OS","g":"F","x":75,"y":0.97},{"p":"OS","g":"F","x":80,"y":0.98},{"p":"OS","g":"F","x":85,"y":0.987},{"p":"OS","g":"F","x":90,"y":0.991},{"p":"OS","g":"F","x":95,"y":0.994},{"p":"OS","g":"F","x":100,"y":0.996},
{"p":"OD","g":"I","x":1,"y":0.02},{"p":"OD","g":"I","x":5,"y":0.032},{"p":"OD","g":"I","x":10,"y":0.055},{"p":"OD","g":"I","x":15,"y":0.088},{"p":"OD","g":"I","x":20,"y":0.132},{"p":"OD","g":"I","x":25,"y":0.195},{"p":"OD","g":"I","x":30,"y":0.276},{"p":"OD","g":"I","x":35,"y":0.376},{"p":"OD","g":"I","x":40,"y":0.489},{"p":"OD","g":"I","x":45,"y":0.602},{"p":"OD","g":"I","x":50,"y":0.705},{"p":"OD","g":"I","x":55,"y":0.8},{"p":"OD","g":"I","x":60,"y":0.875},{"p":"OD","g":"I","x":65,"y":0.928},{"p":"OD","g":"I","x":70,"y":0.958},{"p":"OD","g":"I","x":75,"y":0.975},{"p":"OD","g":"I","x":80,"y":0.984},{"p":"OD","g":"I","x":85,"y":0.989},{"p":"OD","g":"I","x":90,"y":0.992},{"p":"OD","g":"I","x":95,"y":0.994},{"p":"OD","g":"I","x":100,"y":0.996},
{"p":"OD","g":"F","x":1,"y":0.04},{"p":"OD","g":"F","x":5,"y":0.055},{"p":"OD","g":"F","x":10,"y":0.084},{"p":"OD","g":"F","x":15,"y":0.142},{"p":"OD","g":"F","x":20,"y":0.228},{"p":"OD","g":"F","x":25,"y":0.345},{"p":"OD","g":"F","x":30,"y":0.486},{"p":"OD","g":"F","x":35,"y":0.628},{"p":"OD","g":"F","x":40,"y":0.751},{"p":"OD","g":"F","x":45,"y":0.844},{"p":"OD","g":"F","x":50,"y":0.906},{"p":"OD","g":"F","x":55,"y":0.945},{"p":"OD","g":"F","x":60,"y":0.969},{"p":"OD","g":"F","x":65,"y":0.982},{"p":"OD","g":"F","x":70,"y":0.99},{"p":"OD","g":"F","x":75,"y":0.994},{"p":"OD","g":"F","x":80,"y":0.997},{"p":"OD","g":"F","x":85,"y":0.998},{"p":"OD","g":"F","x":90,"y":0.999},{"p":"OD","g":"F","x":95,"y":0.999},{"p":"OD","g":"F","x":100,"y":0.9995}
]
},
"concat": [
{
"width": 592, "height": 255,
"title": {"text": ["Young Adults", "Stable Prevalence"]},
"layer": [
{"data": {"name": "pts"}, "transform": [{"filter": "datum.p == 'YS'"}],
 "mark": {"type": "circle", "size": 50, "opacity": 1},
 "encoding": {
  "x": {"field": "x", "type": "quantitative", "scale": {"domain": [-3.95, 104.95], "nice": false, "zero": false},
   "axis": {"values": [0, 50, 100], "labelExpr": "datum.value == 0 ? 'Very Purple' : (datum.value == 100 ? 'Very Blue' : '')", "tickOpacity": {"condition": {"test": "datum.value == 50", "value": 0}, "value": 1}, "gridColor": {"condition": {"test": "datum.value == 50", "value": "#f3f3f3"}, "value": "#ebebeb"}, "gridWidth": {"condition": {"test": "datum.value == 50", "value": 0.8}, "value": 1.3}, "labelColor": "#1a1a1a", "labelPadding": 3, "labelFlush": false, "labelOverlap": false}},
  "y": {"field": "y", "type": "quantitative", "scale": {"domain": [-0.05, 1.05], "nice": false, "zero": false},
   "axis": {"values": [0, 0.125, 0.25, 0.375, 0.5, 0.625, 0.75, 0.875, 1], "labelExpr": "(datum.value * 8) % 2 == 0 ? format(datum.value, '.2f') : ''", "tickOpacity": {"condition": {"test": "(datum.value * 8) % 2 == 1", "value": 0}, "value": 1}, "gridColor": {"condition": {"test": "(datum.value * 8) % 2 == 1", "value": "#f3f3f3"}, "value": "#ebebeb"}, "gridWidth": {"condition": {"test": "(datum.value * 8) % 2 == 1", "value": 0.8}, "value": 1.3}, "labelColor": "#4d4d4d", "labelPadding": 2, "labelOverlap": false}},
  "fill": {"field": "g", "type": "nominal", "scale": {"domain": ["I", "F"], "range": ["#1874CD", "#8B0000"]},
   "legend": {"orient": "none", "legendX": 1103, "legendY": 550, "title": " ", "titleFontSize": 10, "titlePadding": 4, "padding": 10, "rowPadding": 0, "clipHeight": 31, "symbolType": "M-0.27,0A0.27,0.27,0,1,1,0.27,0A0.27,0.27,0,1,1,-0.27,0Z", "symbolSize": 650, "symbolStrokeWidth": 6, "symbolStrokeColor": "transparent", "symbolOpacity": 1, "labelExpr": "''", "labelOffset": 8, "labelFontSize": 16, "zindex": 2}}
 }},
{"data": {"name": "fit"}, "transform": [{"filter": "datum.p == 'YS' && datum.g == 'I'"}],
 "mark": {"type": "line", "strokeWidth": 6, "opacity": 0.7, "interpolate": "monotone"},
 "encoding": {"x": {"field": "x", "type": "quantitative"}, "y": {"field": "y", "type": "quantitative"},
  "stroke": {"field": "g", "type": "nominal", "sort": "descending", "scale": {"range": ["#1874CD", "#8B0000"]},
   "legend": {"orient": "none", "legendX": 1103, "legendY": 550, "title": " ", "titleFontSize": 10, "titlePadding": 4, "padding": 10, "rowPadding": 0, "clipHeight": 31, "symbolType": "stroke", "symbolSize": 650, "symbolStrokeWidth": 6, "symbolOpacity": 0.7, "labelExpr": "datum.value == 'I' ? 'Initial 200 trials' : 'Final 200 trials'", "labelOffset": 8, "labelFontSize": 16, "labelColor": "#222222", "fillColor": "white", "zindex": 1}}}},
{"data": {"name": "fit"}, "transform": [{"filter": "datum.p == 'YS' && datum.g == 'F'"}],
 "mark": {"type": "line", "strokeWidth": 6, "opacity": 0.7, "interpolate": "monotone"},
 "encoding": {"x": {"field": "x", "type": "quantitative"}, "y": {"field": "y", "type": "quantitative"}, "stroke": {"field": "g", "type": "nominal", "sort": "descending"}}}
]
},
{
"width": 592, "height": 255,
"title": {"text": ["Young Adults", "Decreasing Prevalence"]},
"layer": [
{"data": {"name": "pts"}, "transform": [{"filter": "datum.p == 'YD'"}],
 "mark": {"type": "circle", "size": 50, "opacity": 1},
 "encoding": {
  "x": {"field": "x", "type": "quantitative", "scale": {"domain": [-3.95, 104.95], "nice": false, "zero": false},
   "axis": {"values": [0, 50, 100], "labelExpr": "datum.value == 0 ? 'Very Purple' : (datum.value == 100 ? 'Very Blue' : '')", "tickOpacity": {"condition": {"test": "datum.value == 50", "value": 0}, "value": 1}, "gridColor": {"condition": {"test": "datum.value == 50", "value": "#f3f3f3"}, "value": "#ebebeb"}, "gridWidth": {"condition": {"test": "datum.value == 50", "value": 0.8}, "value": 1.3}, "labelColor": "#1a1a1a", "labelPadding": 3, "labelFlush": false, "labelOverlap": false}},
  "y": {"field": "y", "type": "quantitative", "scale": {"domain": [-0.05, 1.05], "nice": false, "zero": false},
   "axis": {"values": [0, 0.125, 0.25, 0.375, 0.5, 0.625, 0.75, 0.875, 1], "labelExpr": "(datum.value * 8) % 2 == 0 ? format(datum.value, '.2f') : ''", "tickOpacity": {"condition": {"test": "(datum.value * 8) % 2 == 1", "value": 0}, "value": 1}, "gridColor": {"condition": {"test": "(datum.value * 8) % 2 == 1", "value": "#f3f3f3"}, "value": "#ebebeb"}, "gridWidth": {"condition": {"test": "(datum.value * 8) % 2 == 1", "value": 0.8}, "value": 1.3}, "labelColor": "#4d4d4d", "labelPadding": 2, "labelOverlap": false}},
  "fill": {"field": "g", "type": "nominal"}
 }},
{"data": {"name": "fit"}, "transform": [{"filter": "datum.p == 'YD' && datum.g == 'I'"}],
 "mark": {"type": "line", "strokeWidth": 6, "opacity": 0.7, "interpolate": "monotone"},
 "encoding": {"x": {"field": "x", "type": "quantitative"}, "y": {"field": "y", "type": "quantitative"}, "stroke": {"field": "g", "type": "nominal", "sort": "descending"}}},
{"data": {"name": "fit"}, "transform": [{"filter": "datum.p == 'YD' && datum.g == 'F'"}],
 "mark": {"type": "line", "strokeWidth": 6, "opacity": 0.7, "interpolate": "monotone"},
 "encoding": {"x": {"field": "x", "type": "quantitative"}, "y": {"field": "y", "type": "quantitative"}, "stroke": {"field": "g", "type": "nominal", "sort": "descending"}}}
]
},
{
"width": 592, "height": 255,
"title": {"text": ["Older Adults", "Stable Prevalence"]},
"layer": [
{"data": {"name": "pts"}, "transform": [{"filter": "datum.p == 'OS'"}],
 "mark": {"type": "circle", "size": 50, "opacity": 1},
 "encoding": {
  "x": {"field": "x", "type": "quantitative", "scale": {"domain": [-3.95, 104.95], "nice": false, "zero": false},
   "axis": {"values": [0, 50, 100], "labelExpr": "datum.value == 0 ? 'Very Purple' : (datum.value == 100 ? 'Very Blue' : '')", "tickOpacity": {"condition": {"test": "datum.value == 50", "value": 0}, "value": 1}, "gridColor": {"condition": {"test": "datum.value == 50", "value": "#f3f3f3"}, "value": "#ebebeb"}, "gridWidth": {"condition": {"test": "datum.value == 50", "value": 0.8}, "value": 1.3}, "labelColor": "#1a1a1a", "labelPadding": 3, "labelFlush": false, "labelOverlap": false}},
  "y": {"field": "y", "type": "quantitative", "scale": {"domain": [-0.05, 1.05], "nice": false, "zero": false},
   "axis": {"values": [0, 0.125, 0.25, 0.375, 0.5, 0.625, 0.75, 0.875, 1], "labelExpr": "(datum.value * 8) % 2 == 0 ? format(datum.value, '.2f') : ''", "tickOpacity": {"condition": {"test": "(datum.value * 8) % 2 == 1", "value": 0}, "value": 1}, "gridColor": {"condition": {"test": "(datum.value * 8) % 2 == 1", "value": "#f3f3f3"}, "value": "#ebebeb"}, "gridWidth": {"condition": {"test": "(datum.value * 8) % 2 == 1", "value": 0.8}, "value": 1.3}, "labelColor": "#4d4d4d", "labelPadding": 2, "labelOverlap": false}},
  "fill": {"field": "g", "type": "nominal"}
 }},
{"data": {"name": "fit"}, "transform": [{"filter": "datum.p == 'OS' && datum.g == 'I'"}],
 "mark": {"type": "line", "strokeWidth": 6, "opacity": 0.7, "interpolate": "monotone"},
 "encoding": {"x": {"field": "x", "type": "quantitative"}, "y": {"field": "y", "type": "quantitative"}, "stroke": {"field": "g", "type": "nominal", "sort": "descending"}}},
{"data": {"name": "fit"}, "transform": [{"filter": "datum.p == 'OS' && datum.g == 'F'"}],
 "mark": {"type": "line", "strokeWidth": 6, "opacity": 0.7, "interpolate": "monotone"},
 "encoding": {"x": {"field": "x", "type": "quantitative"}, "y": {"field": "y", "type": "quantitative"}, "stroke": {"field": "g", "type": "nominal", "sort": "descending"}}}
]
},
{
"width": 592, "height": 255,
"title": {"text": ["Older Adults", "Decreasing Prevalence"]},
"layer": [
{"data": {"name": "pts"}, "transform": [{"filter": "datum.p == 'OD'"}],
 "mark": {"type": "circle", "size": 50, "opacity": 1},
 "encoding": {
  "x": {"field": "x", "type": "quantitative", "scale": {"domain": [-3.95, 104.95], "nice": false, "zero": false},
   "axis": {"values": [0, 50, 100], "labelExpr": "datum.value == 0 ? 'Very Purple' : (datum.value == 100 ? 'Very Blue' : '')", "tickOpacity": {"condition": {"test": "datum.value == 50", "value": 0}, "value": 1}, "gridColor": {"condition": {"test": "datum.value == 50", "value": "#f3f3f3"}, "value": "#ebebeb"}, "gridWidth": {"condition": {"test": "datum.value == 50", "value": 0.8}, "value": 1.3}, "labelColor": "#1a1a1a", "labelPadding": 3, "labelFlush": false, "labelOverlap": false}},
  "y": {"field": "y", "type": "quantitative", "scale": {"domain": [-0.05, 1.05], "nice": false, "zero": false},
   "axis": {"values": [0, 0.125, 0.25, 0.375, 0.5, 0.625, 0.75, 0.875, 1], "labelExpr": "(datum.value * 8) % 2 == 0 ? format(datum.value, '.2f') : ''", "tickOpacity": {"condition": {"test": "(datum.value * 8) % 2 == 1", "value": 0}, "value": 1}, "gridColor": {"condition": {"test": "(datum.value * 8) % 2 == 1", "value": "#f3f3f3"}, "value": "#ebebeb"}, "gridWidth": {"condition": {"test": "(datum.value * 8) % 2 == 1", "value": 0.8}, "value": 1.3}, "labelColor": "#4d4d4d", "labelPadding": 2, "labelOverlap": false}},
  "fill": {"field": "g", "type": "nominal"}
 }},
{"data": {"name": "fit"}, "transform": [{"filter": "datum.p == 'OD' && datum.g == 'I'"}],
 "mark": {"type": "line", "strokeWidth": 6, "opacity": 0.7, "interpolate": "monotone"},
 "encoding": {"x": {"field": "x", "type": "quantitative"}, "y": {"field": "y", "type": "quantitative"}, "stroke": {"field": "g", "type": "nominal", "sort": "descending"}}},
{"data": {"name": "fit"}, "transform": [{"filter": "datum.p == 'OD' && datum.g == 'F'"}],
 "mark": {"type": "line", "strokeWidth": 6, "opacity": 0.7, "interpolate": "monotone"},
 "encoding": {"x": {"field": "x", "type": "quantitative"}, "y": {"field": "y", "type": "quantitative"}, "stroke": {"field": "g", "type": "nominal", "sort": "descending"}}}
]
}
],
"config": {
 "font": "Liberation Sans",
 "view": {"stroke": "#6e6e6e", "strokeWidth": 1},
 "title": {"fontSize": 23, "font": "Liberation Sans", "fontWeight": "normal", "color": "#000000", "lineHeight": 26, "offset": 14, "anchor": "middle"},
 "axis": {"labelFont": "Liberation Sans", "labelFontSize": 17, "domain": false, "tickColor": "#4d4d4d", "tickSize": 4, "title": null, "grid": true},
 "legend": {"labelFont": "Liberation Sans", "titleFont": "Liberation Sans"}
}
}
